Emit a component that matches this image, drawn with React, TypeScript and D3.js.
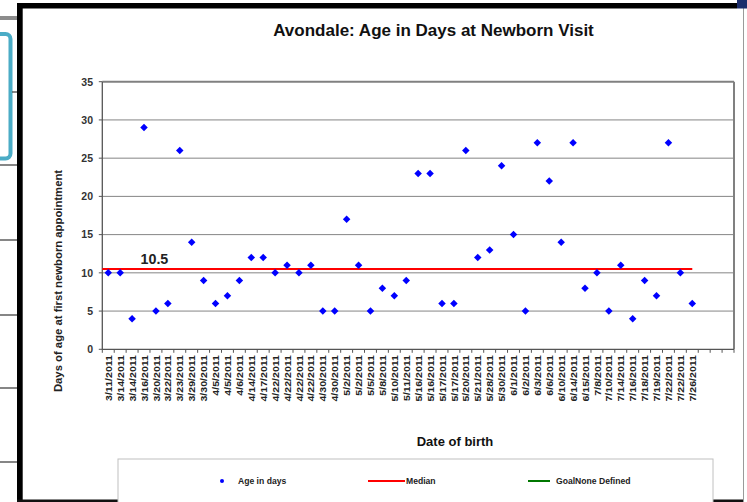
import React from "react";
import * as d3 from "d3";

const categories = [
  "3/11/2011", "3/14/2011", "3/14/2011", "3/16/2011", "3/20/2011", "3/22/2011", "3/23/2011", "3/29/2011", "3/30/2011", "4/5/2011",
  "4/5/2011", "4/6/2011", "4/14/2011", "4/17/2011", "4/22/2011", "4/22/2011", "4/22/2011", "4/22/2011", "4/30/2011", "4/30/2011",
  "5/2/2011", "5/2/2011", "5/5/2011", "5/8/2011", "5/10/2011", "5/11/2011", "5/16/2011", "5/16/2011", "5/17/2011", "5/17/2011",
  "5/20/2011", "5/21/2011", "5/28/2011", "5/30/2011", "6/1/2011", "6/2/2011", "6/3/2011", "6/6/2011", "6/10/2011", "6/14/2011",
  "6/15/2011", "7/8/2011", "7/10/2011", "7/14/2011", "7/16/2011", "7/18/2011", "7/19/2011", "7/22/2011", "7/22/2011", "7/26/2011",
];
const emptySlots = 3;

const ageInDays = [
  10, 10, 4, 29, 5, 6, 26, 14, 9, 6,
  7, 9, 12, 12, 10, 11, 10, 11, 5, 5,
  17, 11, 5, 8, 7, 9, 23, 23, 6, 6,
  26, 12, 13, 24, 15, 5, 27, 22, 14, 27,
  8, 10, 5, 11, 4, 9, 7, 27, 10, 6,
];
const medianValue = 10.5;
const yTicks = [0, 5, 10, 15, 20, 25, 30, 35];

const legendItems = [
  { label: "Age in days", kind: "dot", color: "#0000ff" },
  { label: "Median", kind: "line", color: "#ff0000" },
  { label: "GoalNone Defined", kind: "line", color: "#007700" },
];

const FONT = "'Liberation Sans', Arial, Helvetica, sans-serif";

export default function App() {
  const left = 102.3, right = 734, top = 81.7, bottom = 349.3;
  const slots = d3.range(categories.length + emptySlots);
  const x = d3.scaleBand<number>().domain(slots).range([left, right]).padding(0);
  const y = d3.scaleLinear().domain([0, 35]).range([bottom, top]);
  const cx = (i: number) => (x(i) as number) + x.bandwidth() / 2;
  const diamond = d3.symbol().type(d3.symbolDiamond2).size(36)();
  const lastCenter = cx(categories.length - 1);

  const legendPos = [
    { mark: 222, text: 238 },
    { mark: [368, 405], text: 406 },
    { mark: [528, 550], text: 556 },
  ];

  return (
    <svg
      width={747}
      height={502}
      style={{ position: "absolute", left: 0, top: 0, background: "#fff" }}
      fontFamily={FONT}
    >
      <rect x={0} y={0} width={747} height={502} fill="#fff" />
      {/* surrounding slide decorations */}
      <rect x={-30} y={34} width={40.5} height={124.5} rx={5} fill="none" stroke="#4bacc6" strokeWidth={4} />
      <rect x={0} y={16} width={17} height={4} fill="#8c8c8c" />
      {[92, 165, 240, 315, 388, 462].map((ly, i) => (
        <line key={ly} x1={i === 0 ? 12 : 0} x2={17} y1={ly} y2={ly} stroke="#444" strokeWidth={1.3} />
      ))}
      <rect x={17} y={3} width={720} height={5.5} fill="#000" />
      <rect x={17} y={3} width={5.7} height={499} fill="#000" />
      <rect x={17} y={499.5} width={727} height={2.5} fill="#111" />
      <line x1={743.5} x2={743.5} y1={8} y2={502} stroke="#9a9a9a" strokeWidth={1} />
      <rect x={737} y={0} width={10} height={8.5} fill="#1c2d6b" />

      {/* title */}
      <text x={433.5} y={36} textAnchor="middle" fontSize={17} fontWeight="bold" fill="#111">
        Avondale: Age in Days at Newborn Visit
      </text>

      {/* grid */}
      {yTicks.filter((t) => t > 0 && t < 35).map((t) => (
        <line key={t} x1={left} x2={right} y1={y(t)} y2={y(t)} stroke="#858585" strokeWidth={1} />
      ))}
      {/* plot border */}
      <line x1={left} x2={right} y1={top} y2={top} stroke="#808080" strokeWidth={2} />
      <line x1={right} x2={right} y1={top} y2={bottom} stroke="#808080" strokeWidth={2} />
      <line x1={left} x2={left} y1={top} y2={bottom + 0.5} stroke="#555" strokeWidth={1.3} />
      <line x1={left} x2={right} y1={bottom} y2={bottom} stroke="#555" strokeWidth={1.3} />

      {/* y ticks */}
      {yTicks.map((t) => (
        <g key={t}>
          <line x1={left - 3.5} x2={left} y1={y(t)} y2={y(t)} stroke="#555" strokeWidth={1} />
          <text x={93} y={y(t) + 3.8} textAnchor="end" fontSize={10.5} fontWeight="bold" fill="#333">
            {t}
          </text>
        </g>
      ))}

      {/* x ticks */}
      {slots.concat([slots.length]).map((s) => {
        const xx = s < slots.length ? (x(s) as number) : right;
        return <line key={s} x1={xx} x2={xx} y1={bottom} y2={bottom + 3.5} stroke="#555" strokeWidth={1} />;
      })}
      {categories.map((c, i) => (
        <text
          key={i}
          transform={`translate(${cx(i) + 3.6},${355}) rotate(-90) scale(1,0.82)`}
          textAnchor="end"
          fontSize={10.6}
          fontWeight="bold"
          fill="#222"
        >
          {c}
        </text>
      ))}

      {/* axis titles */}
      <text
        transform={`translate(${62},${281}) rotate(-90)`}
        textAnchor="middle"
        fontSize={11.3}
        fontWeight="bold"
        fill="#222"
      >
        Days of age at first newborn appointment
      </text>
      <text x={455} y={446} textAnchor="middle" fontSize={13} fontWeight="bold" fill="#111">
        Date of birth
      </text>

      {/* median */}
      <line x1={left} x2={lastCenter} y1={y(medianValue)} y2={y(medianValue)} stroke="#ff0000" strokeWidth={2.2} />
      <text x={140.5} y={264} fontSize={14.3} fontWeight="bold" fill="#222">
        {medianValue}
      </text>

      {/* points */}
      {ageInDays.map((v, i) => (
        <path key={i} d={diamond as string} transform={`translate(${cx(i)},${y(v)})`} fill="#0000ff" />
      ))}

      {/* legend */}
      <rect x={118} y={459} width={595} height={50} fill="#fff" stroke="#c0c0c0" strokeWidth={1} />
      {legendItems.map((item, i) => {
        const p = legendPos[i];
        return (
          <g key={item.label}>
            {item.kind === "dot" ? (
              <circle cx={p.mark as number} cy={481} r={2} fill={item.color} />
            ) : (
              <line
                x1={(p.mark as number[])[0]}
                x2={(p.mark as number[])[1]}
                y1={481}
                y2={481}
                stroke={item.color}
                strokeWidth={2}
              />
            )}
            <text x={p.text} y={484.3} fontSize={8.6} fontWeight="bold" fill="#222">
              {item.label}
            </text>
          </g>
        );
      })}
    </svg>
  );
}
